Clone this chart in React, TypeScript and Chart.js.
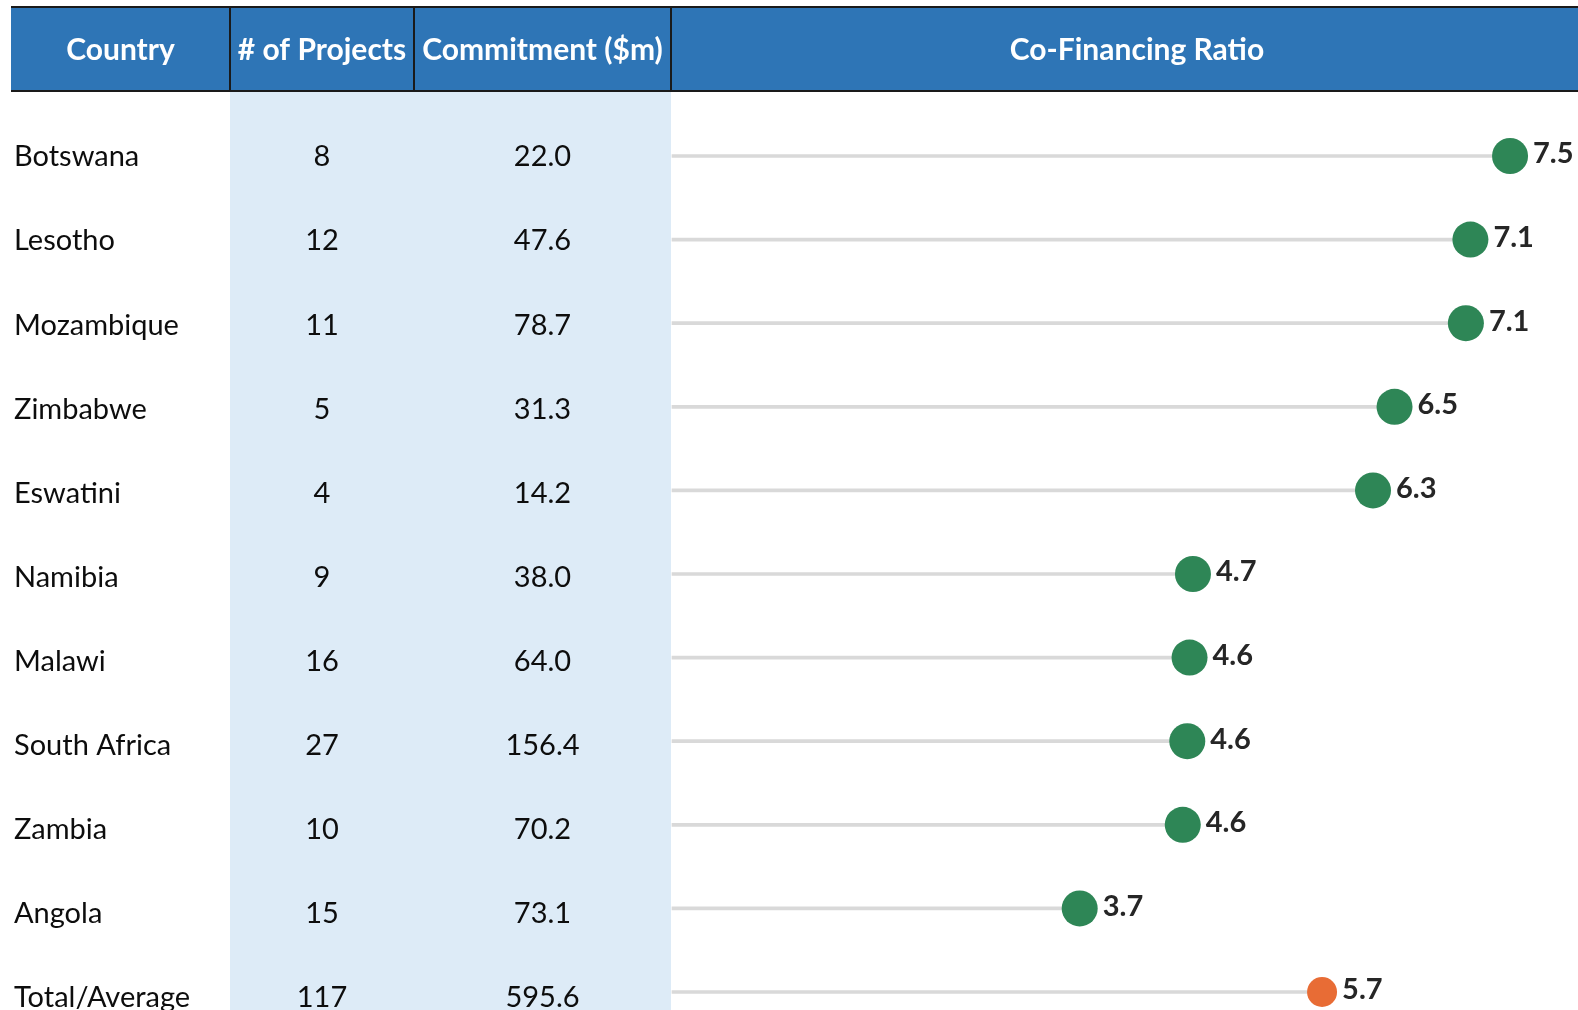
import React, { useEffect, useRef } from "react";
import { Chart, registerables } from "chart.js";

Chart.register(...registerables);

const headers = ["Country", "# of Projects", "Commitment ($m)", "Co-Financing Ratio"];
const countries = [
  "Botswana", "Lesotho", "Mozambique", "Zimbabwe", "Eswatini", "Namibia",
  "Malawi", "South Africa", "Zambia", "Angola", "Total/Average",
];
const projects = [8, 12, 11, 5, 4, 9, 16, 27, 10, 15, 117];
const commitments = [22.0, 47.6, 78.7, 31.3, 14.2, 38.0, 64.0, 156.4, 70.2, 73.1, 595.6];
const ratios = [7.5, 7.15, 7.11, 6.48, 6.29, 4.7, 4.67, 4.65, 4.61, 3.7, 5.84];
const ratioLabels = ["7.5", "7.1", "7.1", "6.5", "6.3", "4.7", "4.6", "4.6", "4.6", "3.7", "5.7"];

const X_MIN = 0.1;
const X_MAX = 8.1;

const FONT = "Lato, 'Open Sans', sans-serif";
const HEADER_BLUE = "#2E75B6";
const LIGHT_BLUE = "#DDEBF7";
const GREEN = "#2E8656";
const ORANGE = "#E86C35";
const STEM = "#D9D9D9";

// column boundaries (layout)
const COL_LEFT = 11;
const COL1 = 230;
const COL2 = 414;
const COL3 = 671;
const HEADER_TOP = 7;
const HEADER_BOTTOM = 91;

const tablePlugin = {
  id: "tablePlugin",
  beforeDatasetsDraw(chart: any) {
    const { ctx, width, height } = chart;
    const y = chart.scales.y;
    ctx.save();
    // light blue column band
    ctx.fillStyle = LIGHT_BLUE;
    ctx.fillRect(COL1, HEADER_BOTTOM, COL3 - COL1, height - HEADER_BOTTOM);
    // header
    ctx.fillStyle = HEADER_BLUE;
    ctx.fillRect(COL_LEFT, HEADER_TOP, width - COL_LEFT, HEADER_BOTTOM - HEADER_TOP);
    ctx.strokeStyle = "#1a1a1a";
    ctx.lineWidth = 2;
    ctx.beginPath();
    ctx.moveTo(COL_LEFT, HEADER_TOP);
    ctx.lineTo(width, HEADER_TOP);
    ctx.moveTo(COL_LEFT, HEADER_BOTTOM);
    ctx.lineTo(width, HEADER_BOTTOM);
    [COL1, COL2, COL3].forEach((cx) => {
      ctx.moveTo(cx, HEADER_TOP);
      ctx.lineTo(cx, HEADER_BOTTOM);
    });
    ctx.stroke();
    ctx.fillStyle = "#ffffff";
    ctx.font = `bold 30px ${FONT}`;
    ctx.textAlign = "center";
    ctx.textBaseline = "middle";
    const hy = (HEADER_TOP + HEADER_BOTTOM) / 2 + 1;
    ctx.fillText(headers[0], (COL_LEFT + COL1) / 2, hy);
    ctx.fillText(headers[1], (COL1 + COL2) / 2, hy);
    ctx.fillText(headers[2], (COL2 + COL3) / 2, hy);
    ctx.fillText(headers[3], 1137, hy);

    // rows
    ctx.fillStyle = "#0d0d0d";
    ctx.font = `29px ${FONT}`;
    countries.forEach((c, i) => {
      const py = y.getPixelForValue(i) + 1 + i * 0.5;
      ctx.textAlign = "left";
      ctx.fillText(c, 14, py);
      ctx.textAlign = "center";
      ctx.fillText(String(projects[i]), (COL1 + COL2) / 2, py);
      ctx.fillText(commitments[i].toFixed(1), (COL2 + COL3) / 2, py);
    });
    ctx.restore();
  },
  afterDatasetsDraw(chart: any) {
    const { ctx } = chart;
    const meta = chart.getDatasetMeta(1);
    ctx.save();
    ctx.fillStyle = "#262626";
    ctx.font = `bold 29px ${FONT}`;
    ctx.textAlign = "left";
    ctx.textBaseline = "middle";
    meta.data.forEach((pt: any, i: number) => {
      const r = i === countries.length - 1 ? 15 : 18;
      ctx.fillText(ratioLabels[i], pt.x + r + 5, pt.y - 2);
    });
    ctx.restore();
  },
};

export default function App() {
  const ref = useRef<HTMLCanvasElement | null>(null);
  useEffect(() => {
    if (!ref.current) return;
    const last = countries.length - 1;
    const chart = new Chart(ref.current, {
      type: "bar",
      data: {
        labels: countries,
        datasets: [
          {
            type: "bar",
            data: ratios.map((v) => [X_MIN, v]) as any,
            backgroundColor: STEM,
            barThickness: 3,
            borderSkipped: false,
            clip: false as any,
            order: 2,
          } as any,
          {
            type: "line",
            data: ratios,
            showLine: false,
            pointRadius: ratios.map((_, i) => (i === last ? 15 : 18)),
            pointHoverRadius: ratios.map((_, i) => (i === last ? 15 : 18)),
            pointBackgroundColor: ratios.map((_, i) => (i === last ? ORANGE : GREEN)),
            pointBorderWidth: 0,
            clip: false as any,
            order: 1,
          } as any,
        ],
      },
      options: {
        animation: false,
        responsive: false,
        indexAxis: "y",
        layout: {
          autoPadding: false,
          padding: { left: COL3 + 1, top: 156, right: 0, bottom: 18 },
        },
        plugins: {
          legend: { display: false },
          tooltip: { enabled: false },
        },
        scales: {
          x: { type: "linear", min: X_MIN, max: X_MAX, display: false },
          y: { type: "category", offset: false, display: false },
        },
      } as any,
      plugins: [tablePlugin],
    });
    return () => chart.destroy();
  }, []);
  return (
    <div style={{ position: "absolute", left: 0, top: 0, width: 1578, height: 1010, background: "#fff" }}>
      <canvas ref={ref} width={1578} height={1010} style={{ width: 1578, height: 1010, display: "block" }} />
    </div>
  );
}
